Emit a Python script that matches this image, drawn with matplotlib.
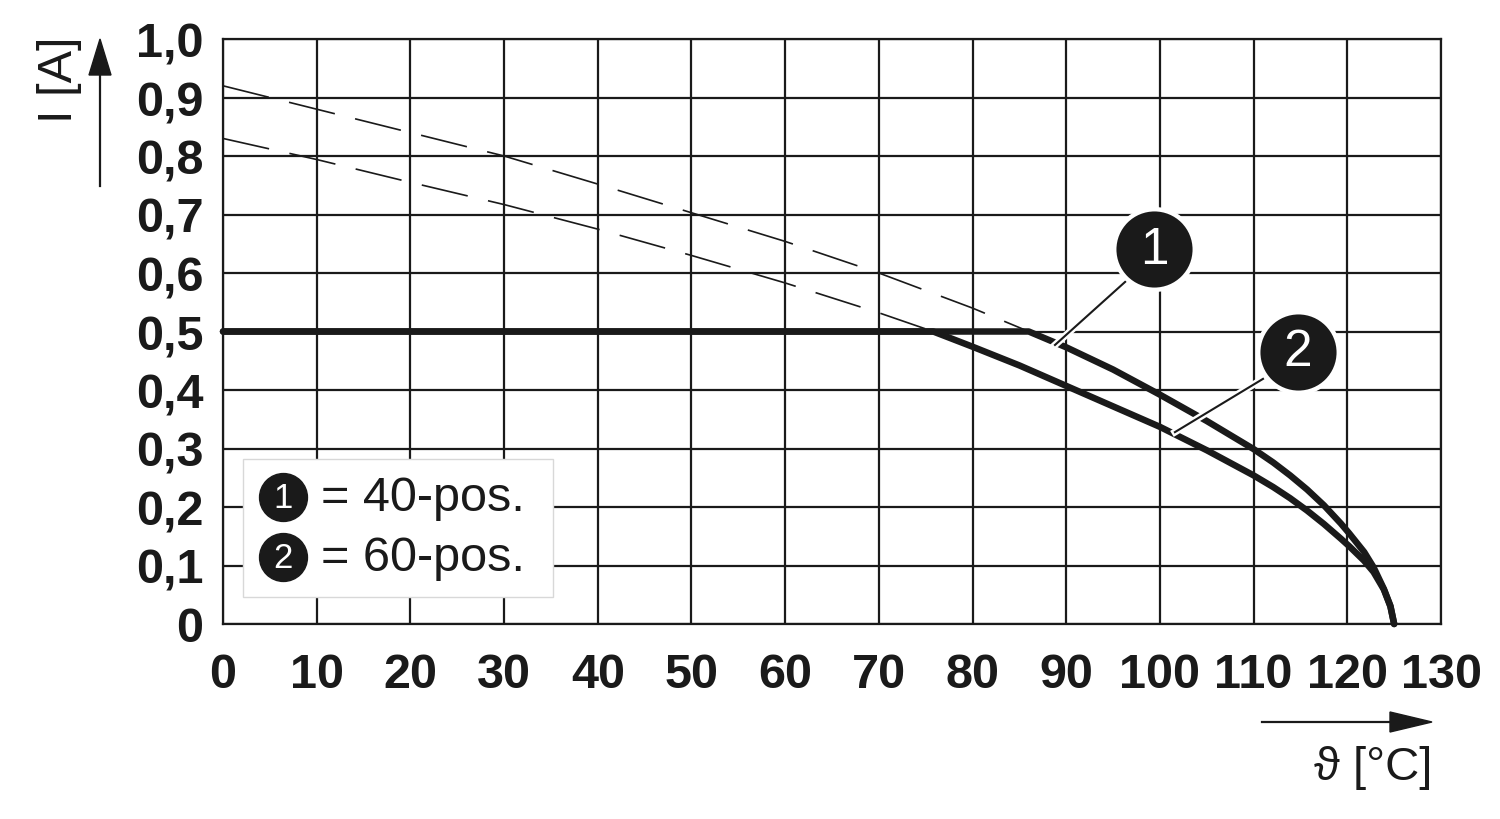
import matplotlib
matplotlib.use('Agg')
import matplotlib.pyplot as plt
from matplotlib.patches import Rectangle, Polygon
import matplotlib.patheffects as pe

# derating curve: 1 = 40-pos., 2 = 60-pos.
temp_40_dash = [0, 10, 20, 30, 40, 50, 60, 70, 80, 86]
amp_40_dash = [0.92, 0.88, 0.84, 0.80, 0.752, 0.703, 0.654, 0.600, 0.54, 0.50]
temp_40 = [0, 86, 90, 95, 100, 105, 110, 112.1, 113.9, 115.7, 117.5, 119.3, 120.2,
           121.8, 122.8, 123.9, 124.6, 125.0]
amp_40 = [0.5, 0.5, 0.473, 0.435, 0.392, 0.347, 0.299, 0.276, 0.254, 0.230, 0.203, 0.172, 0.155,
          0.123, 0.097, 0.060, 0.031, 0.0]

temp_60_dash = [0, 10, 20, 30, 40, 50, 60, 70, 75.8]
amp_60_dash = [0.83, 0.794, 0.755, 0.717, 0.675, 0.630, 0.583, 0.532, 0.50]
temp_60 = [0, 75.8, 80, 85, 90, 95, 100, 105, 110, 112.1, 113.9, 115.7, 117.5, 119.3,
           120.2, 121.8, 122.8, 123.9, 124.6, 125.0]
amp_60 = [0.5, 0.5, 0.474, 0.442, 0.407, 0.372, 0.337, 0.297, 0.254, 0.234, 0.215, 0.194,
          0.171, 0.146, 0.133, 0.108, 0.089, 0.059, 0.030, 0.0]

x_ticks = list(range(0, 131, 10))
y_ticks = [i / 10 for i in range(11)]
y_labels = ['0', '0,1', '0,2', '0,3', '0,4', '0,5', '0,6', '0,7', '0,8', '0,9', '1,0']
legend_labels = ['= 40-pos.', '= 60-pos.']

W, H = 1500, 820
INK = '#1a1a1a'
plt.rcParams['font.family'] = ['Liberation Sans', 'DejaVu Sans']
plt.rcParams['lines.scale_dashes'] = False

fig = plt.figure(figsize=(W / 100, H / 100), dpi=100)
ax = fig.add_axes([223 / W, 1 - 625 / H, (1441 - 223) / W, (625 - 40) / H])
ax.set_xlim(0, 130)
ax.set_ylim(0, 1.0)

ax.set_xticks(x_ticks)
ax.set_xticklabels([str(t) for t in x_ticks], fontsize=35, fontweight='bold', color=INK)
ax.set_yticks(y_ticks)
ax.set_yticklabels(y_labels, fontsize=35, fontweight='bold', color=INK)
ax.tick_params(axis='x', length=0, pad=20)
ax.tick_params(axis='y', length=0, pad=14)
ax.grid(True, color=INK, lw=1.6)
ax.set_axisbelow(True)
for s in ax.spines.values():
    s.set_linewidth(1.6)
    s.set_color(INK)

# dashed extensions
ax.plot(temp_40_dash, amp_40_dash, color=INK, lw=1.2, dashes=(34, 15), zorder=3)
ax.plot(temp_60_dash, amp_60_dash, color=INK, lw=1.2, dashes=(34, 15), zorder=3)
# solid curves
ax.plot(temp_40, amp_40, color=INK, lw=4.7, solid_capstyle='round',
        solid_joinstyle='round', clip_on=False, zorder=4)
ax.plot(temp_60, amp_60, color=INK, lw=4.7, solid_capstyle='round',
        solid_joinstyle='round', clip_on=False, zorder=4)

# callouts
callouts = [('1', (99.4, 0.641), (96.3, 0.585), (88.8, 0.477)),
            ('2', (114.7, 0.4655), (111.0, 0.419), (101.6, 0.328))]
for txt, c, p0, p1 in callouts:
    ax.plot([p0[0], p1[0]], [p0[1], p1[1]], color=INK, lw=1.5, zorder=5,
            path_effects=[pe.Stroke(linewidth=5, foreground='white'), pe.Normal()])
    ax.plot(c[0], c[1], 'o', ms=58, mfc=INK, mec='white', mew=3.2, zorder=6)
    ax.text(c[0], c[1], txt, color='white', fontsize=37, ha='center', va='center', zorder=7)

# legend box
ax.add_patch(Rectangle((19.7 / 1218, 26.7 / 585), 310.6 / 1218, 138.3 / 585,
                       transform=ax.transAxes, facecolor='white', edgecolor='#d8d8d8',
                       lw=1, zorder=5))
for i, lab in enumerate(legend_labels):
    yy = [498.3, 558.3][i]
    fx, fy = 283.3 / W, 1 - yy / H
    fig.lines.append(plt.Line2D([fx], [fy], marker='o', ms=34.5, mfc=INK, mec=INK,
                                transform=fig.transFigure, zorder=10))
    fig.text(fx, fy, str(i + 1), color='white', fontsize=25, ha='center', va='center', zorder=11)
    fig.text(321 / W, fy, lab, color=INK, fontsize=35, ha='left', va='center', zorder=11)

# axis labels and arrows
fig.text(60 / W, 1 - 80 / H, 'I [A]', rotation=90, fontsize=35, color=INK,
         ha='center', va='center')
fig.text(1432 / W, 1 - 768 / H, 'ϑ [°C]', fontsize=34, color=INK, ha='right', va='center')

fig.lines.append(plt.Line2D([100 / W, 100 / W], [1 - 187 / H, 1 - 70 / H],
                            color=INK, lw=1.6, transform=fig.transFigure))
fig.patches.append(Polygon([(100 / W, 1 - 40 / H), (89 / W, 1 - 76 / H), (111 / W, 1 - 76 / H)],
                           closed=True, color=INK, transform=fig.transFigure))
fig.lines.append(plt.Line2D([1262 / W, 1400 / W], [1 - 723 / H, 1 - 723 / H],
                            color=INK, lw=1.6, transform=fig.transFigure))
fig.patches.append(Polygon([(1432 / W, 1 - 723 / H), (1390 / W, 1 - 713 / H), (1390 / W, 1 - 733 / H)],
                           closed=True, color=INK, transform=fig.transFigure))

fig.savefig('out.png', dpi=100, facecolor='white')
